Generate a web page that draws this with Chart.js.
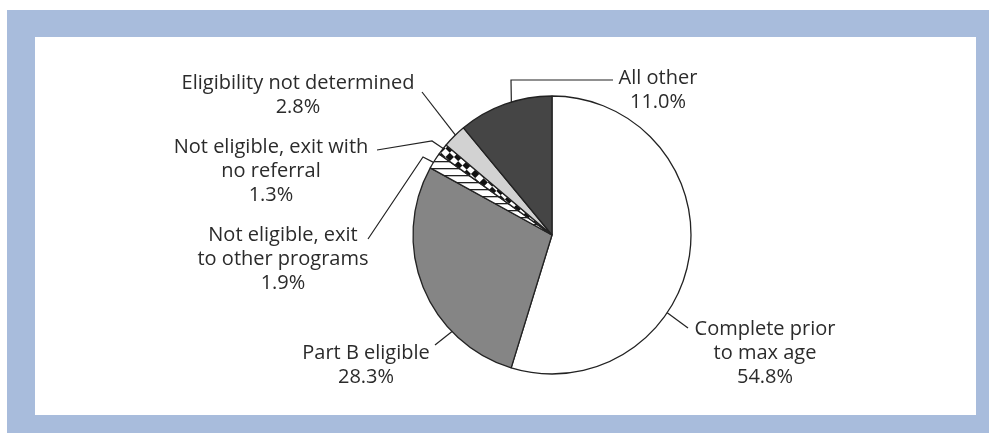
<!DOCTYPE html>
<html><head><meta charset="utf-8">
<script src="https://cdn.jsdelivr.net/npm/chart.js@4"></script>
<style>
html,body{margin:0;padding:0;background:#fff;width:989px;height:433px;overflow:hidden}
#frame{position:absolute;left:7px;top:10px;width:982px;height:423px;background:#a8bcdc}
#inner{position:absolute;left:35px;top:37px;width:941px;height:378px;background:#fff}
#wrap{position:absolute;left:0;top:0;width:989px;height:433px}
</style></head><body>
<div id="frame"></div><div id="inner"></div>
<div id="wrap"><canvas id="c" width="989" height="433"></canvas></div>
<script>
// ---- data ----
const categories = [
  "Complete prior to max age",
  "Part B eligible",
  "Not eligible, exit to other programs",
  "Not eligible, exit with no referral",
  "Eligibility not determined",
  "All other"
];
const labelLines = [
  ["Complete prior", "to max age"],
  ["Part B eligible"],
  ["Not eligible, exit", "to other programs"],
  ["Not eligible, exit with", "no referral"],
  ["Eligibility not determined"],
  ["All other"]
];
const values = [54.8, 28.3, 1.9, 1.3, 2.8, 11.0];

// ---- styles / layout ----
function hatchPattern() {
  const c = document.createElement('canvas'); c.width = 8; c.height = 7;
  const g = c.getContext('2d');
  g.fillStyle = '#fff'; g.fillRect(0, 0, 8, 7);
  g.fillStyle = '#222'; g.fillRect(0, 0, 8, 1.3);
  return g.createPattern(c, 'repeat');
}
function checkerPattern() {
  const c = document.createElement('canvas'); c.width = 12; c.height = 12;
  const g = c.getContext('2d');
  g.fillStyle = '#fff'; g.fillRect(0, 0, 12, 12);
  g.fillStyle = '#111'; g.fillRect(0, 0, 6, 6); g.fillRect(6, 6, 6, 6);
  const p = g.createPattern(c, 'repeat');
  if (p.setTransform) p.setTransform(new DOMMatrix().rotate(45));
  return p;
}
const fills = ['#ffffff', '#858585', hatchPattern(), checkerPattern(), '#d2d2d2', '#454545'];

const labelLayout = [
  {cx: 765, y: 329, leader: [[688, 328]], anchorDeg: 124},
  {cx: 366, y: 353, leader: [[435, 345]], anchorDeg: 226},
  {cx: 283, y: 235, leader: [[368, 239], [423, 157]], anchorDeg: 301.5},
  {cx: 271, y: 147, leader: [[377, 150], [432, 141]], anchorDeg: 308.5},
  {cx: 298, y: 83,  leader: [[422, 92]], anchorDeg: 316},
  {cx: 658, y: 78,  leader: [[613, 80], [511, 80]], anchorDeg: 343}
];
const FONT = '20px "Open Sans", "DejaVu Sans", sans-serif';
const LINE_H = 24;

const labelPlugin = {
  id: 'pieLabels',
  afterDatasetsDraw(chart) {
    const ctx = chart.ctx;
    const meta = chart.getDatasetMeta(0);
    ctx.save();
    ctx.strokeStyle = '#222'; ctx.lineWidth = 1.2;
    meta.data.forEach((arc, i) => {
      const L = labelLayout[i];
      const {x, y, outerRadius} = arc.getProps(['x', 'y', 'outerRadius'], true);
      const a = (L.anchorDeg - 90) * Math.PI / 180;
      const ax = x + outerRadius * Math.cos(a), ay = y + outerRadius * Math.sin(a);
      ctx.beginPath();
      ctx.moveTo(L.leader[0][0], L.leader[0][1]);
      for (let k = 1; k < L.leader.length; k++) ctx.lineTo(L.leader[k][0], L.leader[k][1]);
      ctx.lineTo(ax, ay);
      ctx.stroke();
    });
    ctx.fillStyle = '#2b2b2b';
    ctx.font = FONT;
    ctx.textAlign = 'center';
    ctx.textBaseline = 'middle';
    meta.data.forEach((arc, i) => {
      const L = labelLayout[i];
      const lines = labelLines[i].concat([values[i].toFixed(1) + '%']);
      lines.forEach((t, k) => ctx.fillText(t, L.cx, L.y + k * LINE_H));
    });
    ctx.restore();
  }
};

new Chart(document.getElementById('c'), {
  type: 'pie',
  data: {
    labels: categories,
    datasets: [{
      data: values,
      backgroundColor: fills,
      borderColor: '#222',
      borderWidth: 1.3,
      radius: 139
    }]
  },
  options: {
    responsive: false,
    animation: false,
    devicePixelRatio: 1,
    layout: {padding: {left: 407, right: 292, top: 90, bottom: 53}},
    plugins: {legend: {display: false}, tooltip: {enabled: false}}
  },
  plugins: [labelPlugin]
});
</script>
</body></html>
